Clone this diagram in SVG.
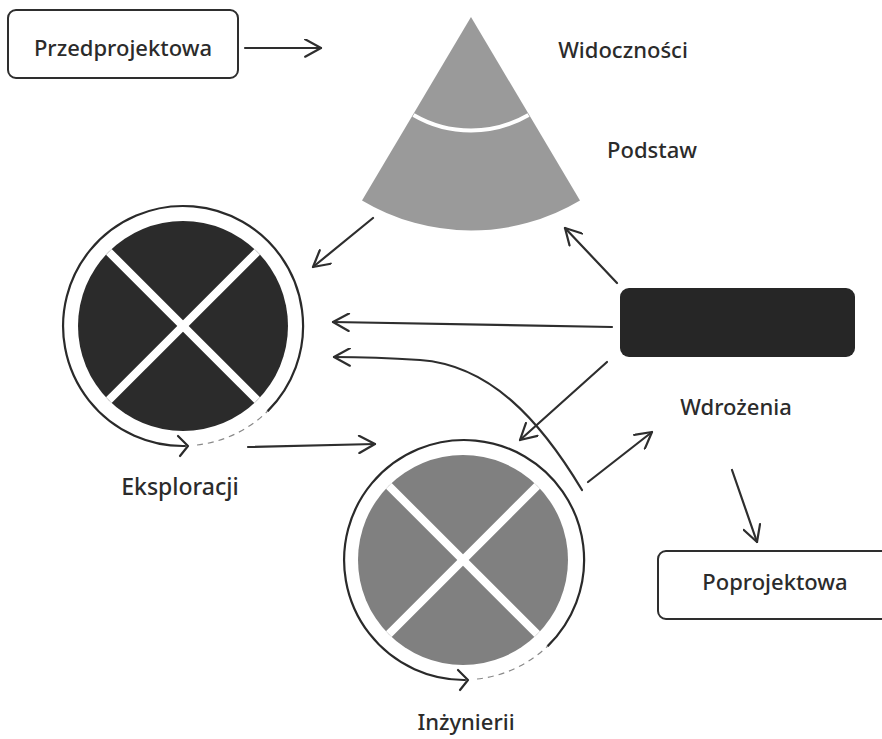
<svg xmlns="http://www.w3.org/2000/svg" width="882" height="739" viewBox="0 0 882 739">
<defs>
<marker id="ah" viewBox="0 0 12 12" refX="11" refY="6" markerWidth="19" markerHeight="19" markerUnits="userSpaceOnUse" orient="auto">
<path d="M1,0.5 L11,6 L1,11.5" fill="none" stroke="#2e2e2e" stroke-width="1.4" stroke-linecap="round" stroke-linejoin="round"/>
</marker>
<style>
.lbl{font-family:"Noto Sans","DejaVu Sans",sans-serif;font-size:22px;fill:#2b2b2b;text-anchor:middle;font-weight:500}
.box{fill:#fff;stroke:#2e2e2e;stroke-width:2}
.conn{fill:none;stroke:#2e2e2e;stroke-width:2.2;stroke-linecap:round;marker-end:url(#ah)}
.ring{fill:none;stroke:#2a2a2a;stroke-width:2.2;stroke-linecap:round}
.faint{fill:none;stroke:#888;stroke-width:1.2;stroke-dasharray:6 5}
.cross{stroke:#fff;stroke-width:8}
</style>
</defs>
<rect width="882" height="739" fill="#fff"/>

<g id="connectors">
<path class="conn" d="M245,48 L321,48"/>
<path class="conn" d="M373,218 L313,267"/>
<path class="conn" d="M612,327 L333,322"/>
<path class="conn" d="M582,490 C540,420 490,365 420,360 C390,358 360,357 334,357"/>
<path class="conn" d="M607,362 L520,440"/>
<path class="conn" d="M588,482 L652,432"/>
<path class="conn" d="M617,283 L565,228"/>
<path class="conn" d="M732,470 L757,542"/>
<path class="conn" d="M248,447 L375,444"/>
</g>

<g id="przedprojektowa">
<rect class="box" x="8" y="10" width="230" height="68" rx="8"/>
<text class="lbl" x="123" y="56">Przedprojektowa</text>
</g>

<g id="pyramid">
<path d="M471,17 L362,200.5 A213,213 0 0 0 580,200.5 Z" fill="#9a9a9a"/>
<path d="M413.5,115 A114,114 0 0 0 528.5,115" fill="none" stroke="#fff" stroke-width="4"/>
<text class="lbl" x="623" y="58">Widoczności</text>
<text class="lbl" x="652" y="158">Podstaw</text>
</g>

<g id="eksploracji">
<circle cx="183" cy="326" r="105" fill="#2b2b2b"/>
<line class="cross" x1="108.8" y1="251.8" x2="257.2" y2="400.2"/>
<line class="cross" x1="257.2" y1="251.8" x2="108.8" y2="400.2"/>
<path class="ring" d="M267.9,410.9 A120,120 0 1 0 185,446"/>
<path d="M178,436 L188,446 L180,456" fill="none" stroke="#2a2a2a" stroke-width="2.2" stroke-linecap="round" stroke-linejoin="round"/>
<path class="faint" d="M197,445 A120,120 0 0 0 267.9,410.9"/>
<text class="lbl" x="180" y="495" style="font-size:23px">Eksploracji</text>
</g>

<g id="wdrozenia">
<rect x="620" y="288" width="235" height="69" rx="9" fill="#262626"/>
<text class="lbl" x="736" y="415">Wdrożenia</text>
</g>

<g id="inzynierii">
<circle cx="463" cy="560" r="105" fill="#808080"/>
<line class="cross" x1="388.8" y1="485.8" x2="537.2" y2="634.2"/>
<line class="cross" x1="537.2" y1="485.8" x2="388.8" y2="634.2"/>
<path class="ring" d="M547.9,645.9 A120,120 0 1 0 465,680"/>
<path d="M458,670 L468,680 L460,690" fill="none" stroke="#2a2a2a" stroke-width="2.2" stroke-linecap="round" stroke-linejoin="round"/>
<path class="faint" d="M477,679 A120,120 0 0 0 547.9,645.9"/>
<text class="lbl" x="466" y="730">Inżynierii</text>
</g>

<g id="poprojektowa">
<rect class="box" x="658" y="551" width="240" height="68" rx="8"/>
<text class="lbl" x="775" y="590">Poprojektowa</text>
</g>
</svg>
